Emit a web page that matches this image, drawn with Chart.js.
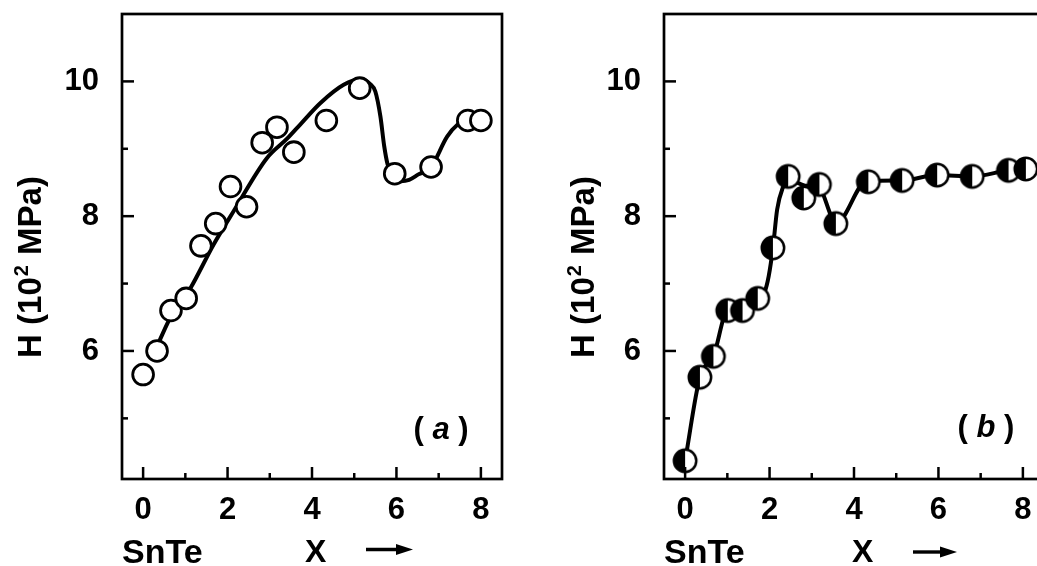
<!DOCTYPE html>
<html><head><meta charset="utf-8">
<script src="https://cdn.jsdelivr.net/npm/chart.js@4"></script>
<style>
html,body{margin:0;padding:0;background:#fff;overflow:hidden;width:1037px;height:566px;}
#ca{position:absolute;left:0;top:0;}
#cb{position:absolute;left:542px;top:0;}
</style></head><body>
<canvas id="ca" width="520" height="566"></canvas>
<canvas id="cb" width="520" height="566"></canvas>
<script>
// ---- data ----
// panel (a): measured points
const xA = [0, 0.33, 0.66, 1.02, 1.37, 1.72, 2.07, 2.45, 2.82, 3.17, 3.57, 4.34, 5.13, 5.96, 6.82, 7.69, 8.0];
const hA = [5.65, 6.0, 6.6, 6.78, 7.56, 7.89, 8.44, 8.14, 9.09, 9.32, 8.95, 9.42, 9.9, 8.63, 8.73, 9.42, 9.42];
// panel (a): drawn guide curve
const fitXA = [0.35, 0.66, 0.9, 1.12, 1.67, 2.15, 2.93, 3.41, 3.72, 4.2, 4.75, 5.14, 5.38, 5.5, 5.62, 5.71, 5.79, 5.9, 6.1, 6.3, 6.52, 6.82, 7.2, 7.45, 7.68, 8.0];
const fitHA = [6.1, 6.51, 6.72, 6.93, 7.58, 8.08, 8.86, 9.15, 9.36, 9.68, 9.95, 10.03, 9.96, 9.85, 9.48, 9.04, 8.77, 8.6, 8.52, 8.54, 8.62, 8.73, 9.18, 9.36, 9.43, 9.43];
// panel (b): measured points
const xB = [0, 0.35, 0.67, 1.01, 1.36, 1.72, 2.08, 2.44, 2.81, 3.18, 3.57, 4.34, 5.14, 5.97, 6.8, 7.66, 8.07];
const hB = [4.37, 5.61, 5.92, 6.6, 6.6, 6.78, 7.53, 8.59, 8.27, 8.47, 7.89, 8.51, 8.53, 8.61, 8.59, 8.68, 8.7];
// panel (b): drawn guide curve
const fitXB = [0, 0.35, 0.67, 1.01, 1.36, 1.72, 1.88, 1.98, 2.08, 2.18, 2.33, 2.45, 2.65, 2.89, 3.12, 3.58, 4.3, 5.14, 5.97, 6.8, 7.66, 8.07];
const fitHB = [4.37, 5.61, 5.92, 6.6, 6.6, 6.78, 6.87, 7.11, 7.53, 8.1, 8.45, 8.59, 8.5, 8.45, 8.47, 7.9, 8.52, 8.53, 8.61, 8.59, 8.68, 8.7];
// ticks
const xTickValues = [0, 1, 2, 3, 4, 5, 6, 7, 8];
const xTickLabels = [0, 2, 4, 6, 8];
const yTickValues = [5, 6, 7, 8, 9, 10];
const yTickLabels = [6, 8, 10];
// texts
const yTitleParts = ['H (10', '2', ' MPa)'];
const xTitleLeft = 'SnTe';
const xTitleVar = 'X';
const panelNames = ['a', 'b'];

const FONT = "'Liberation Sans', Arial, Helvetica, sans-serif";

function halfMarker() {
  const c = document.createElement('canvas');
  c.width = 30; c.height = 30;
  const g = c.getContext('2d');
  const r = 11.2;
  g.beginPath(); g.arc(15, 15, r, 0, Math.PI * 2); g.fillStyle = '#fff'; g.fill();
  g.beginPath(); g.arc(15, 15, r, Math.PI / 2, Math.PI * 3 / 2); g.closePath(); g.fillStyle = '#000'; g.fill();
  g.beginPath(); g.arc(15, 15, r, 0, Math.PI * 2); g.lineWidth = 2.5; g.strokeStyle = '#000'; g.stroke();
  return c;
}

function decorPlugin(o) {
  return {
    id: 'decor',
    afterDraw(chart) {
      const ctx = chart.ctx, a = chart.chartArea, sx = chart.scales.x, sy = chart.scales.y;
      ctx.save();
      ctx.strokeStyle = '#000'; ctx.fillStyle = '#000';
      // frame
      ctx.lineWidth = 2.7;
      ctx.strokeRect(a.left, a.top, a.right - a.left, a.bottom - a.top);
      // ticks (inward)
      ctx.lineWidth = 2.5;
      xTickValues.forEach(v => {
        const px = sx.getPixelForValue(v);
        const len = xTickLabels.includes(v) ? 12 : 6;
        ctx.beginPath(); ctx.moveTo(px, a.bottom); ctx.lineTo(px, a.bottom - len); ctx.stroke();
      });
      yTickValues.forEach(v => {
        const py = sy.getPixelForValue(v);
        const len = yTickLabels.includes(v) ? 12 : 6;
        ctx.beginPath(); ctx.moveTo(a.left, py); ctx.lineTo(a.left + len, py); ctx.stroke();
      });
      // y title
      ctx.save();
      ctx.translate(o.titleX, o.titleY);
      ctx.rotate(-Math.PI / 2);
      const big = 'bold 33px ' + FONT, small = 'bold 20px ' + FONT;
      ctx.font = big; const w1 = ctx.measureText(yTitleParts[0]).width, w3 = ctx.measureText(yTitleParts[2]).width;
      ctx.font = small; const w2 = ctx.measureText(yTitleParts[1]).width + 2;
      let x0 = -(w1 + w2 + w3) / 2;
      ctx.textBaseline = 'middle'; ctx.textAlign = 'left';
      ctx.font = big; ctx.fillText(yTitleParts[0], x0, 0);
      ctx.font = small; ctx.fillText(yTitleParts[1], x0 + w1 + 1, -10);
      ctx.font = big; ctx.fillText(yTitleParts[2], x0 + w1 + w2, 0);
      ctx.restore();
      // x titles
      ctx.font = 'bold 34px ' + FONT; ctx.textBaseline = 'alphabetic'; ctx.textAlign = 'left';
      ctx.fillText(xTitleLeft, o.snX, 563);
      ctx.font = 'bold 32px ' + FONT;
      ctx.fillText(xTitleVar, o.xX, 562);
      // arrow
      ctx.lineWidth = 3.4;
      ctx.beginPath(); ctx.moveTo(o.arX1, o.arY); ctx.lineTo(o.arX2 - 12, o.arY); ctx.stroke();
      ctx.beginPath(); ctx.moveTo(o.arX2, o.arY); ctx.lineTo(o.arX2 - 17, o.arY - 5.5); ctx.lineTo(o.arX2 - 17, o.arY + 5.5); ctx.closePath(); ctx.fill();
      // panel label
      ctx.textBaseline = 'middle';
      const pf = 'bold 31px ' + FONT, pi = 'italic bold 31px ' + FONT;
      ctx.font = pf; const p1 = ctx.measureText('( ').width, p3 = ctx.measureText(' )').width;
      ctx.font = pi; const p2 = ctx.measureText(o.name).width;
      let lx = o.labX - (p1 + p2 + p3) / 2;
      ctx.font = pf; ctx.fillText('( ', lx, o.labY);
      ctx.font = pi; ctx.fillText(o.name, lx + p1, o.labY);
      ctx.font = pf; ctx.fillText(' )', lx + p1 + p2, o.labY);
      ctx.restore();
    }
  };
}

function makeChart(id, px, py, fx, fy, marker, o) {
  const tickFont = { family: FONT, size: 31, weight: 'bold' };
  return new Chart(document.getElementById(id), {
    type: 'scatter',
    data: {
      datasets: [
        { data: px.map((x, i) => ({ x: x, y: py[i] })), pointStyle: marker, pointRadius: 10.4,
          pointBorderWidth: 2.8, pointBackgroundColor: '#fff', pointBorderColor: '#000',
          showLine: false, order: 0, clip: false },
        { data: fx.map((x, i) => ({ x: x, y: fy[i] })), showLine: true, pointRadius: 0,
          borderColor: '#000', borderWidth: 4, cubicInterpolationMode: 'monotone',
          order: 1, fill: false, borderCapStyle: 'round', borderJoinStyle: 'round' }
      ]
    },
    options: {
      responsive: false, animation: false, devicePixelRatio: 1,
      layout: { padding: { top: 14, right: 18, left: 0, bottom: 0 } },
      plugins: { legend: { display: false }, tooltip: { enabled: false } },
      scales: {
        x: {
          type: 'linear', min: -0.5, max: 8.5,
          grid: { display: false }, border: { display: false },
          afterBuildTicks: s => { s.ticks = xTickValues.map(v => ({ value: v })); },
          afterFit: s => { s.height = 87; s.paddingLeft = 0; s.paddingRight = 0; },
          ticks: { callback: v => xTickLabels.includes(v) ? String(v) : '', font: tickFont, color: '#000',
                   padding: 5, maxRotation: 0, autoSkip: false }
        },
        y: {
          type: 'linear', min: 4.1, max: 11,
          grid: { display: false }, border: { display: false },
          afterBuildTicks: s => { s.ticks = yTickValues.map(v => ({ value: v })); },
          afterFit: s => { s.width = 122; s.paddingTop = 0; s.paddingBottom = 0; },
          ticks: { callback: v => yTickLabels.includes(v) ? String(v) : '', font: tickFont, color: '#000',
                   padding: 15, autoSkip: false }
        }
      }
    },
    plugins: [decorPlugin(o)]
  });
}

makeChart('ca', xA, hA, fitXA, fitHA, 'circle',
  { name: panelNames[0], titleX: 32, titleY: 267, snX: 122, xX: 305, arX1: 366, arX2: 413, arY: 549.5, labX: 441, labY: 430 });
makeChart('cb', xB, hB, fitXB, fitHB, halfMarker(),
  { name: panelNames[1], titleX: 43, titleY: 267, snX: 122, xX: 310, arX1: 371, arX2: 415, arY: 552, labX: 444, labY: 428 });
</script>
</body></html>
